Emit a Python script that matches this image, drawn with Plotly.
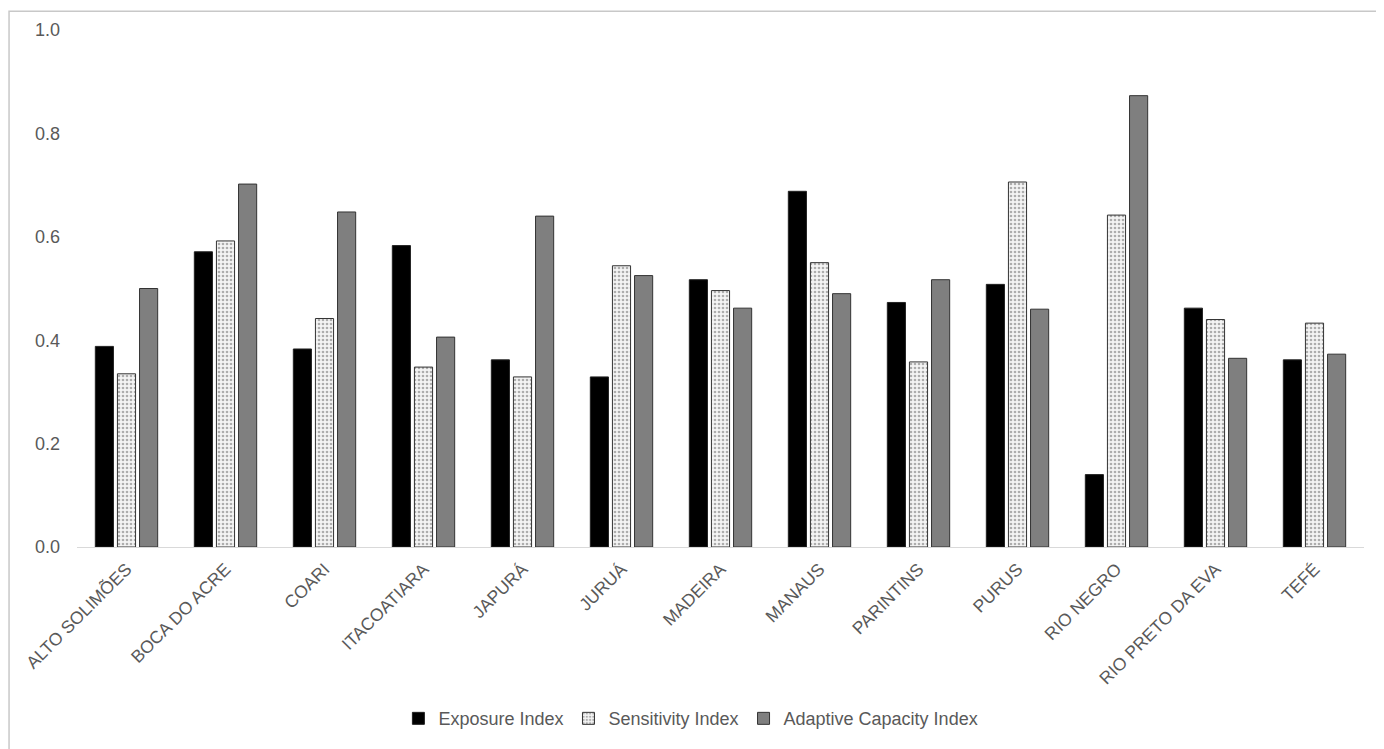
import plotly.graph_objects as go

categories = ["ALTO SOLIMÕES", "BOCA DO ACRE", "COARI", "ITACOATIARA", "JAPURÁ", "JURUÁ",
              "MADEIRA", "MANAUS", "PARINTINS", "PURUS", "RIO NEGRO", "RIO PRETO DA EVA", "TEFÉ"]
exposure = [0.388, 0.571, 0.383, 0.583, 0.362, 0.329, 0.517, 0.688, 0.473, 0.508, 0.140, 0.462, 0.362]
sensitivity = [0.335, 0.592, 0.442, 0.348, 0.329, 0.544, 0.496, 0.550, 0.358, 0.706, 0.642, 0.440, 0.433]
adaptive = [0.500, 0.702, 0.648, 0.406, 0.640, 0.525, 0.462, 0.490, 0.517, 0.460, 0.873, 0.365, 0.373]
y_ticks = [0.0, 0.2, 0.4, 0.6, 0.8, 1.0]

FONT = "Liberation Sans, Arial, sans-serif"
GRAY = "#595959"

fig = go.Figure()
fig.add_trace(go.Bar(name="Exposure Index", x=categories, y=exposure,
                     marker=dict(color="#000000", line=dict(color="#222222", width=1))))
fig.add_trace(go.Bar(name="Sensitivity Index", x=categories, y=sensitivity,
                     marker=dict(color="#ffffff", line=dict(color="#333333", width=1),
                                 pattern=dict(shape=".", size=4, solidity=0.35,
                                              fgcolor="#666666", bgcolor="#f4f4f4"))))
fig.add_trace(go.Bar(name="Adaptive Capacity Index", x=categories, y=adaptive,
                     marker=dict(color="#7f7f7f", line=dict(color="#333333", width=1))))

fig.update_layout(
    width=1376, height=741,
    barmode="group", bargap=0.33, bargroupgap=0.18,
    paper_bgcolor="white", plot_bgcolor="white",
    margin=dict(l=69, r=20, t=22, b=199),
    font=dict(family=FONT, size=18, color=GRAY),
    showlegend=True,
    legend=dict(orientation="h", x=0.477, xanchor="center", y=-0.332, yanchor="middle",
                font=dict(family=FONT, size=18, color=GRAY), itemwidth=30,
                tracegroupgap=0),
    xaxis=dict(tickangle=-45, showgrid=False, showline=True, linecolor="#d9d9d9", linewidth=1,
               ticks="", ticklabelstandoff=4, tickfont=dict(family=FONT, size=17.5, color=GRAY)),
    yaxis=dict(range=[0, 1.0], tickvals=y_ticks, tickformat=".1f", showgrid=False,
               zeroline=False, showline=False, ticks="", ticklabelstandoff=16,
               tickfont=dict(family=FONT, size=18, color=GRAY)),
    shapes=[dict(type="rect", xref="paper", yref="paper", x0=-0.0528, x1=1.0109,
                 y0=-0.41, y1=1.0365, line=dict(color="#c8c8c8", width=1.5),
                 fillcolor="rgba(0,0,0,0)", layer="below")],
)

fig.write_html("out.html")
